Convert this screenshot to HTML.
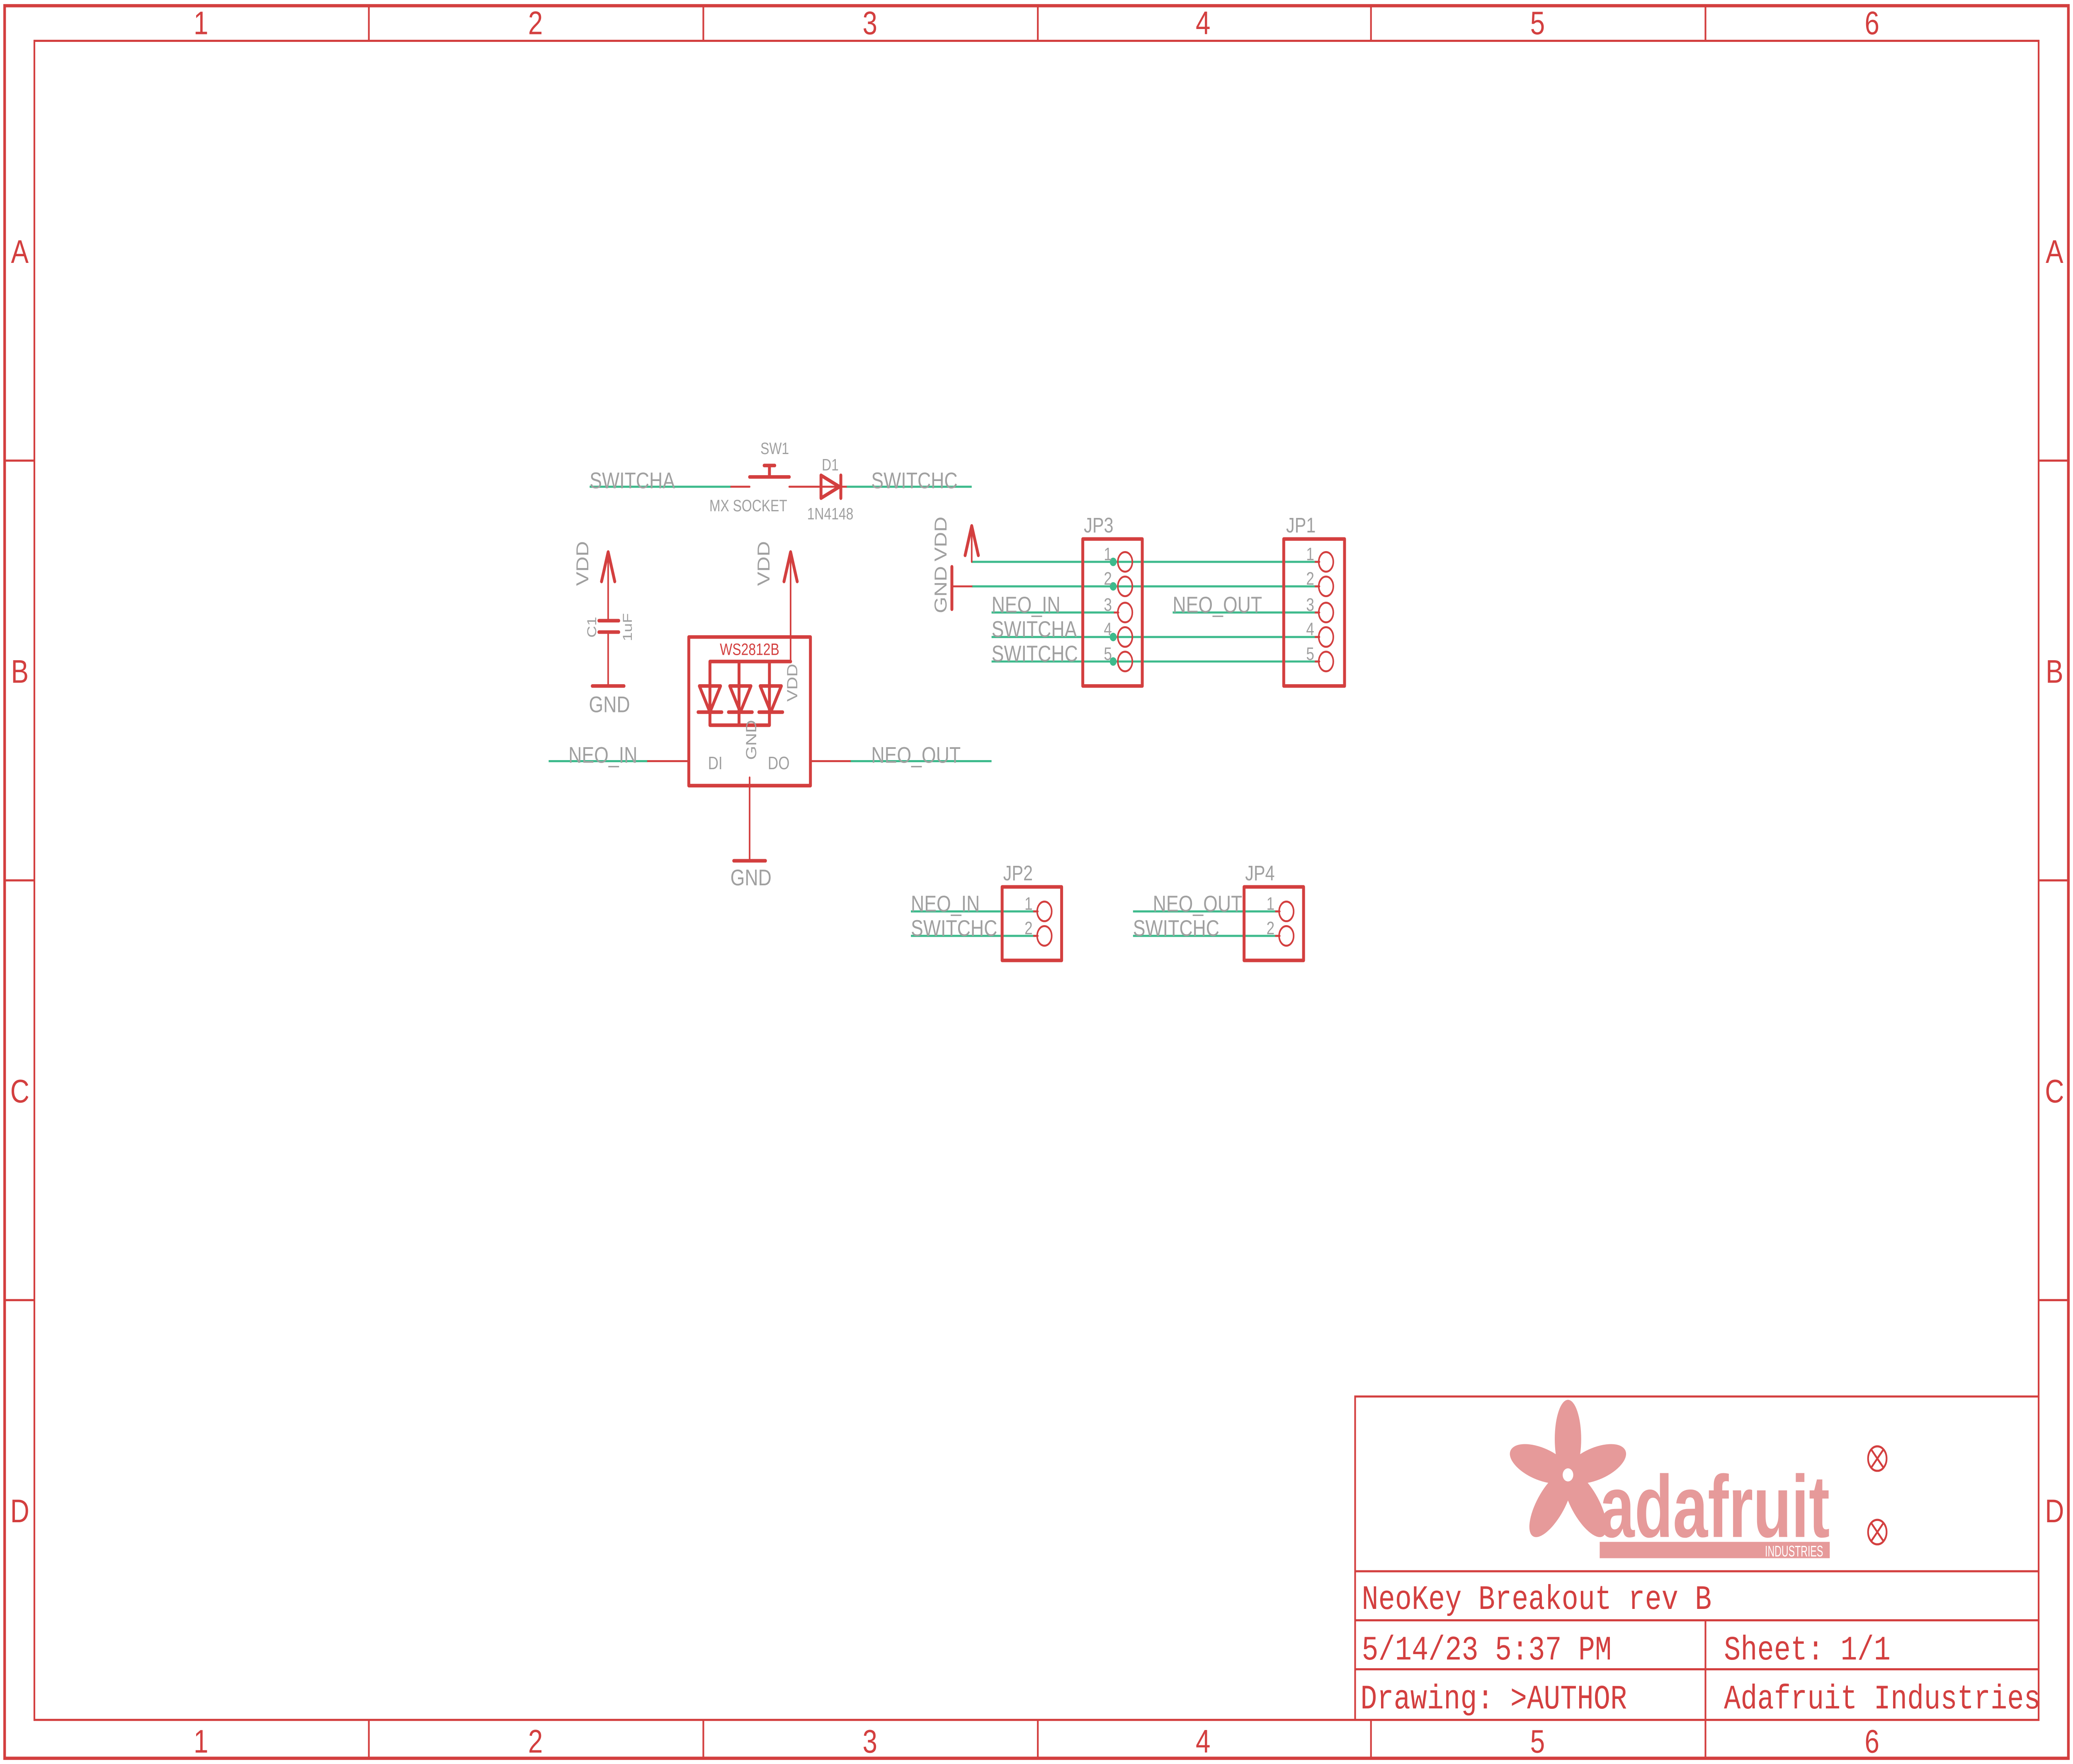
<!DOCTYPE html>
<html><head><meta charset="utf-8"><style>html,body{margin:0;padding:0;background:#fff;overflow:hidden;width:100vw;height:100vh}svg{display:block;position:fixed;left:0;top:0;width:100vw;height:100vh}</style></head><body>
<svg viewBox="0 0 1568 1080" preserveAspectRatio="none" xmlns="http://www.w3.org/2000/svg">
<rect x="0" y="0" width="1568" height="1080" fill="#fff"/>
<g stroke="#d33f3f" fill="none" stroke-width="1.3">
<rect x="3.5" y="3.5" width="1561" height="1073" stroke-width="2"/>
<rect x="26" y="25" width="1516" height="1028"/>
<path d="M279 3V25M532 3V25M785 3V25M1037 3V25M1290 3V25M279 1053V1077M532 1053V1077M785 1053V1077M1037 1053V1077M1290 1053V1077M3 282H26M3 539H26M3 796H26M1542 282H1565M1542 539H1565M1542 796H1565"/>
<path d="M1025 1053V855H1542M1025 962H1542M1025 992H1542M1025 1022H1542M1290 992V1053"/>
</g>
<g fill="#d33f3f" font-family="Liberation Sans, sans-serif" font-size="20" text-anchor="middle">
<text x="152" y="21">1</text><text x="405" y="21">2</text><text x="658" y="21">3</text><text x="910" y="21">4</text><text x="1163" y="21">5</text><text x="1416" y="21">6</text>
<text x="152" y="1073">1</text><text x="405" y="1073">2</text><text x="658" y="1073">3</text><text x="910" y="1073">4</text><text x="1163" y="1073">5</text><text x="1416" y="1073">6</text>
<text x="15" y="161">A</text><text x="15" y="418">B</text><text x="15" y="675">C</text><text x="15" y="932">D</text>
<text x="1554" y="161">A</text><text x="1554" y="418">B</text><text x="1554" y="675">C</text><text x="1554" y="932">D</text>
</g>
<g fill="#d33f3f" font-family="Liberation Mono, monospace" font-size="21">
<text x="1030" y="985">NeoKey Breakout rev B</text>
<text x="1030" y="1016">5/14/23 5:37 PM</text>
<text x="1304" y="1016">Sheet: 1/1</text>
<text x="1029" y="1046">Drawing: &gt;AUTHOR</text>
<text x="1304" y="1046">Adafruit Industries</text>
</g>
<g fill="#e69a9a">
<g transform="translate(1186,903)">
<ellipse cx="0" cy="-22" rx="10" ry="24"/>
<ellipse cx="0" cy="-22" rx="10" ry="24" transform="rotate(72)"/>
<ellipse cx="0" cy="-22" rx="10" ry="24" transform="rotate(144)"/>
<ellipse cx="0" cy="-22" rx="10" ry="24" transform="rotate(216)"/>
<ellipse cx="0" cy="-22" rx="10" ry="24" transform="rotate(288)"/>
</g>
<circle cx="1186" cy="903" r="4" fill="#fff"/>
<text x="1210" y="941" font-family="Liberation Sans, sans-serif" font-weight="bold" font-size="54" textLength="174" lengthAdjust="spacingAndGlyphs">adafruit</text>
<rect x="1210" y="944" width="174" height="10"/>
</g>
<text x="1335" y="953" fill="#fff" font-family="Liberation Sans, sans-serif" font-size="9.5" textLength="44" lengthAdjust="spacingAndGlyphs">INDUSTRIES</text>
<g stroke="#d33f3f" stroke-width="1.3" fill="none">
<ellipse cx="1420" cy="893" rx="7" ry="7.5"/><path d="M1415 887L1425 899M1425 887L1415 899"/>
<ellipse cx="1420" cy="938" rx="7" ry="7.5"/><path d="M1415 932L1425 944M1425 932L1415 944"/>
</g>

<g stroke="#3dba8c" stroke-width="1.3" fill="none">
<path d="M446 298H553M640 298H735"/>
<path d="M415 466H490M643 466H750"/>
<path d="M735 344H997M735 359H997M750 375H843M887 375H997M750 390H997M750 405H997"/>
<path d="M689 558H784M689 573H784M857 558H968M857 573H968"/>
</g>
<g fill="#3dba8c"><circle cx="842" cy="344" r="2.6"/><circle cx="842" cy="359" r="2.6"/><circle cx="842" cy="390" r="2.6"/><circle cx="842" cy="405" r="2.6"/></g>

<g stroke="#d33f3f" fill="none" stroke-linecap="round" stroke-linejoin="round">
<g stroke-width="1.2">
<path d="M553 298H567M597 298H640M490 466H521M613 466H643M720 359H735"/>
<path d="M460 341V380M460 387V420M598 341V405M567 476V527M735 326V344"/>
</g>
<g stroke-width="2.2">
<path d="M567 292H597M582 292V285M578 285H586"/>
<path d="M621 291V305L635 298Z M636 291V305"/>
<path d="M455 356L460 338L465 356M730 340L735 322L740 340"/>
<path d="M593 356L598 338L603 356"/>
<path d="M453 380H468M453 387H468M448 420H472M555 527H579M720 347V373"/>
<rect x="521" y="390" width="92" height="91"/>
<path d="M598 405H537M537 405V444H582M559 405V444M582 405V444"/>
<path d="M529 420H545L537 436Z M528 436H546M552 420H568L560 436Z M551 436H569M575 420H591L583 436Z M574 436H592"/>
<rect x="819" y="330" width="45" height="90"/>
<rect x="971" y="330" width="46" height="90"/>
<rect x="758" y="543" width="45" height="45"/>
<rect x="941" y="543" width="45" height="45"/>
</g>
<g stroke-width="1.2">
<path d="M843 375H846M995 344H998M995 359H998M995 375H998M995 390H998M995 405H998M782 558H785M782 573H785M965 558H968M965 573H968"/>
<ellipse cx="851" cy="344" rx="5.5" ry="6"/><ellipse cx="851" cy="359" rx="5.5" ry="6"/><ellipse cx="851" cy="375" rx="5.5" ry="6"/><ellipse cx="851" cy="390" rx="5.5" ry="6"/><ellipse cx="851" cy="405" rx="5.5" ry="6"/>
<ellipse cx="1003" cy="344" rx="5.5" ry="6"/><ellipse cx="1003" cy="359" rx="5.5" ry="6"/><ellipse cx="1003" cy="375" rx="5.5" ry="6"/><ellipse cx="1003" cy="390" rx="5.5" ry="6"/><ellipse cx="1003" cy="405" rx="5.5" ry="6"/>
<ellipse cx="790" cy="558" rx="5.5" ry="6"/><ellipse cx="790" cy="573" rx="5.5" ry="6"/>
<ellipse cx="973" cy="558" rx="5.5" ry="6"/><ellipse cx="973" cy="573" rx="5.5" ry="6"/>
</g>
</g>

<g fill="#a0a0a0" font-family="Liberation Sans, sans-serif" font-size="14">
<text x="446" y="299">SWITCHA</text>
<text x="659" y="299">SWITCHC</text>
<text x="586" y="278" font-size="10" text-anchor="middle">SW1</text>
<text x="566" y="313" font-size="10" text-anchor="middle">MX SOCKET</text>
<text x="628" y="288" font-size="10" text-anchor="middle">D1</text>
<text x="628" y="318" font-size="10" text-anchor="middle">1N4148</text>
<text x="461" y="436" text-anchor="middle">GND</text>
<text x="568" y="542" text-anchor="middle">GND</text>
<text transform="translate(445,345) rotate(-90)" text-anchor="middle" font-size="13">VDD</text>
<text transform="translate(582,345) rotate(-90)" text-anchor="middle" font-size="13">VDD</text>
<text transform="translate(451,384) rotate(-90)" text-anchor="middle" font-size="10">C1</text>
<text transform="translate(478,384) rotate(-90)" text-anchor="middle" font-size="10">1uF</text>
<text transform="translate(603,418) rotate(-90)" text-anchor="middle" font-size="11">VDD</text>
<text transform="translate(572,453) rotate(-90)" text-anchor="middle" font-size="11">GND</text>
<text x="541" y="471" font-size="11" text-anchor="middle">DI</text>
<text x="589" y="471" font-size="11" text-anchor="middle">DO</text>
<text x="430" y="467">NEO_IN</text>
<text x="659" y="467">NEO_OUT</text>
<text transform="translate(716,330) rotate(-90)" text-anchor="middle" font-size="13">VDD</text>
<text transform="translate(716,361) rotate(-90)" text-anchor="middle" font-size="13">GND</text>
<text x="750" y="375">NEO_IN</text>
<text x="750" y="390">SWITCHA</text>
<text x="750" y="405">SWITCHC</text>
<text x="887" y="375">NEO_OUT</text>
<text x="831" y="326" text-anchor="middle" font-size="13">JP3</text>
<text x="984" y="326" text-anchor="middle" font-size="13">JP1</text>
<text x="770" y="539" text-anchor="middle" font-size="13">JP2</text>
<text x="953" y="539" text-anchor="middle" font-size="13">JP4</text>
<text x="689" y="558">NEO_IN</text>
<text x="689" y="573">SWITCHC</text>
<text x="872" y="558">NEO_OUT</text>
<text x="857" y="573">SWITCHC</text>
<g font-size="11" text-anchor="middle">
<text x="838" y="343">1</text><text x="838" y="358">2</text><text x="838" y="374">3</text><text x="838" y="389">4</text><text x="838" y="404">5</text>
<text x="991" y="343">1</text><text x="991" y="358">2</text><text x="991" y="374">3</text><text x="991" y="389">4</text><text x="991" y="404">5</text>
<text x="778" y="557">1</text><text x="778" y="572">2</text>
<text x="961" y="557">1</text><text x="961" y="572">2</text>
</g>
</g>
<text x="567" y="401" fill="#d33f3f" font-family="Liberation Sans, sans-serif" font-size="10" text-anchor="middle">WS2812B</text>
</svg>
</body></html>
